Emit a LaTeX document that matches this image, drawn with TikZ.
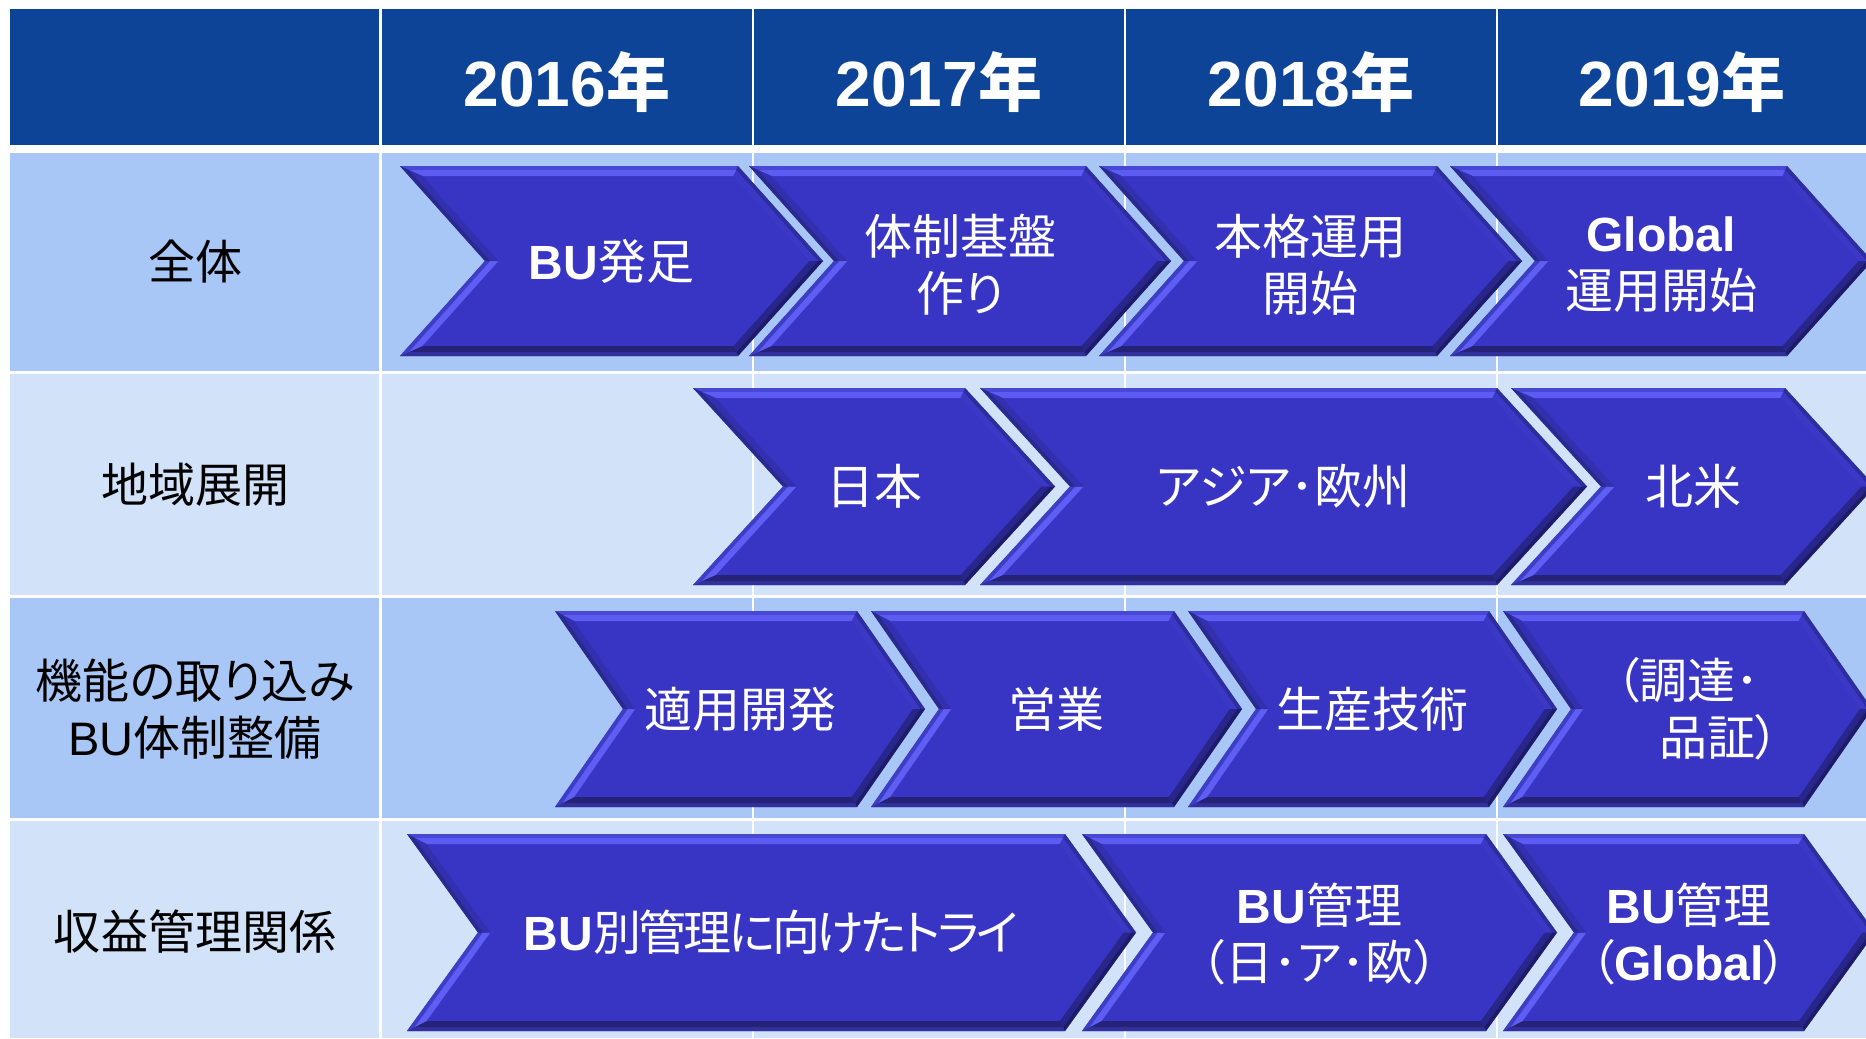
\documentclass[tikz,border=0pt]{standalone}
\usepackage{fontspec}
\setmainfont{Liberation Sans}
\newfontfamily\jp{Noto Sans CJK JP}[RawFeature=+palt]
\definecolor{hdr}{RGB}{14,68,151}
\definecolor{rowA}{RGB}{169,199,246}
\definecolor{rowB}{RGB}{209,226,249}
\definecolor{chv}{RGB}{56,53,197}
\definecolor{topO}{RGB}{72,72,212}
\definecolor{topI}{RGB}{92,92,242}
\definecolor{ruO}{RGB}{46,45,160}
\definecolor{ruI}{RGB}{58,56,196}
\definecolor{rlO}{RGB}{30,28,104}
\definecolor{rlI}{RGB}{40,38,138}
\definecolor{botO}{RGB}{50,49,156}
\definecolor{botI}{RGB}{36,35,120}
\definecolor{llO}{RGB}{62,62,196}
\definecolor{llI}{RGB}{94,94,244}
\definecolor{luO}{RGB}{42,41,142}
\definecolor{luI}{RGB}{50,48,174}
\tikzset{
  hdrtext/.style={text=white,inner sep=0pt,font=\fontsize{32}{36}\selectfont\bfseries},
  lbltext/.style={text=black,inner sep=0pt,align=center,font=\fontsize{23.5}{28.5}\selectfont},
  chvtext/.style={text=white,inner sep=0pt,align=center,font=\fontsize{24}{28.5}\selectfont},
  gridline/.style={white,line width=1.25pt}
}
\newcommand\insetpts[7]{%
  \pgfmathsetmacro\cM{(#4+#5)/2}%
  \pgfmathsetmacro\cS{#6/((#5-#4)/2)}%
  \pgfmathsetmacro\cK{#7*sqrt(1+\cS*\cS)}%
  \coordinate (#1A) at ({#2+\cK+\cS*#7},{#4+#7});
  \coordinate (#1B) at ({#3-\cK+\cS*#7},{#4+#7});
  \coordinate (#1C) at ({#3+#6-\cK},\cM);
  \coordinate (#1D) at ({#3-\cK+\cS*#7},{#5-#7});
  \coordinate (#1E) at ({#2+\cK+\cS*#7},{#5-#7});
  \coordinate (#1F) at ({#2+#6+\cK},\cM);
}
\newcommand\bands[3]{%
  \fill[top#3] (#1A)--(#1B)--(#2B)--(#2A)--cycle;
  \fill[ru#3] (#1B)--(#1C)--(#2C)--(#2B)--cycle;
  \fill[rl#3] (#1C)--(#1D)--(#2D)--(#2C)--cycle;
  \fill[bot#3] (#1D)--(#1E)--(#2E)--(#2D)--cycle;
  \fill[ll#3] (#1E)--(#1F)--(#2F)--(#2E)--cycle;
  \fill[lu#3] (#1F)--(#1A)--(#2A)--(#2F)--cycle;
}
% #1 name, #2 L, #3 R, #4 top, #5 bottom, #6 depth, #7 text, #8 text y shift
\newcommand\chevron[8]{%
  \insetpts{o}{#2}{#3}{#4}{#5}{#6}{0}%
  \insetpts{m}{#2}{#3}{#4}{#5}{#6}{4}%
  \insetpts{n}{#2}{#3}{#4}{#5}{#6}{10}%
  \fill[chv] (oA)--(oB)--(oC)--(oD)--(oE)--(oF)--cycle;
  \bands{o}{m}{O}%
  \bands{m}{n}{I}%
  \pgfmathsetmacro\cM{(#4+#5)/2+#8}%
  \node[chvtext] (#1) at ({(#2+#3+#6)/2},\cM) {#7};
}
\begin{document}
\begin{tikzpicture}[x=0.5pt,y=-0.5pt]
\useasboundingbox (0,0) rectangle (1866,1038);
\clip (0,0) rectangle (1866,1038);
\fill[white] (0,0) rectangle (1866,1038);
% header and rows
\fill[hdr] (10,9.5) rectangle (1866,144.5);
\fill[rowA] (10,152.5) rectangle (1866,371);
\fill[rowB] (10,374) rectangle (1866,595);
\fill[rowA] (10,597.5) rectangle (1866,817.5);
\fill[rowB] (10,820.5) rectangle (1866,1038);
% vertical grid lines
\foreach \gx in {380.5,753,1125,1497}{\draw[gridline] (\gx,9.5) -- (\gx,1038);}
% header texts
\node[hdrtext,anchor=base] (h1) at (567,106) {2016{\jp 年}};
\node[hdrtext,anchor=base] (h2) at (939,106) {2017{\jp 年}};
\node[hdrtext,anchor=base] (h3) at (1311,106) {2018{\jp 年}};
\node[hdrtext,anchor=base] (h4) at (1682,106) {2019{\jp 年}};
% row labels
\node[lbltext] (r1) at (195,262) {{\jp 全体}};
\node[lbltext] (r2) at (195,485) {{\jp 地域展開}};
\node[lbltext] (r3) at (195,709) {{\jp 機能の取り込み}\\BU{\jp 体制整備}};
\node[lbltext] (r4) at (195,932) {{\jp 収益管理関係}};
% row 1
\chevron{c11}{400}{738}{166}{356}{85}{\textbf{BU}{\jp 発足}}{0}
\chevron{c12}{749}{1086}{166}{356}{85}{{\jp 体制基盤}\\{\jp 作り}}{4}
\chevron{c13}{1099}{1437}{166}{356}{85}{{\jp 本格運用}\\{\jp 開始}}{4}
\chevron{c14}{1450}{1787}{166}{356}{85}{\textbf{Global}\\{\jp 運用開始}}{4}
% row 2
\chevron{c21}{693}{965}{388}{585}{90}{{\jp 日本}}{0}
\chevron{c22}{980}{1497}{388}{585}{90}{{\jp アジア･欧州}}{0}
\chevron{c23}{1511}{1785}{388}{585}{90}{{\jp 北米}}{0}
% row 3
\chevron{c31}{555}{857}{611}{807}{68}{{\jp 適用開発}}{0}
\chevron{c32}{871}{1174}{611}{807}{68}{{\jp 営業}}{0}
\chevron{c33}{1188}{1489}{611}{807}{68}{{\jp 生産技術}}{0}
\chevron{c34}{1503}{1804}{611}{807}{68}{{\jp （調達･}\\\hspace*{32pt}{\jp 品証）}}{0}
% row 4
\chevron{c41}{407}{1065}{834}{1031}{71}{\textbf{BU}{\jp\addfontfeature{LetterSpace=-6}別管理に向けたトライ}}{0}
\chevron{c42}{1082}{1486}{834}{1031}{71}{\textbf{BU}{\jp 管理}\\{\jp （日･ア･欧）}}{2}
\chevron{c43}{1503}{1804}{834}{1031}{71}{\textbf{BU}{\jp 管理}\\{\jp （}\textbf{Global}{\jp ）}}{2}
\end{tikzpicture}
\end{document}
